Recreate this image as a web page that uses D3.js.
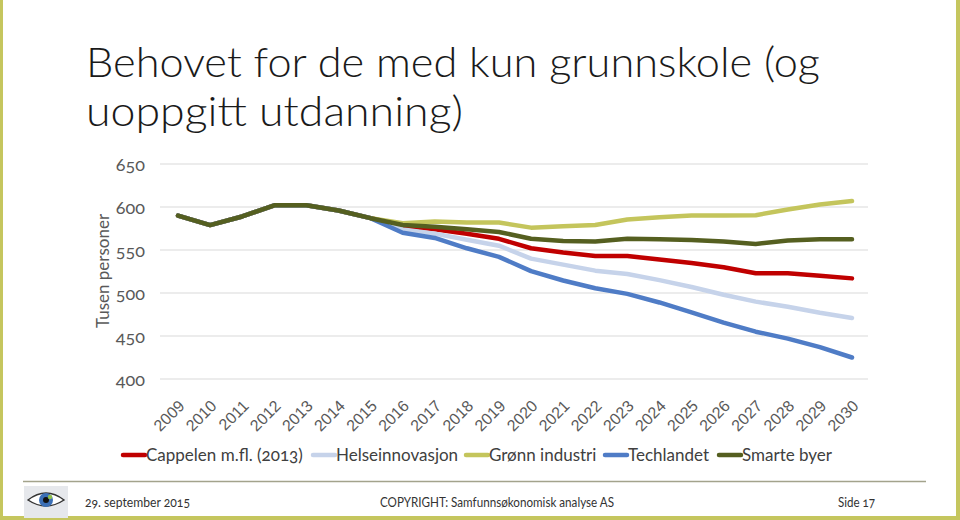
<!DOCTYPE html>
<html><head><meta charset="utf-8">
<script src="https://cdn.jsdelivr.net/npm/d3@7"></script>
<style>
body{margin:0;background:#fff;}
svg{display:block;font-family:Lato,"Open Sans",sans-serif;}
.num{font-variant-numeric:oldstyle-nums;font-feature-settings:"onum" 1;}
</style></head>
<body><svg id="c" width="960" height="520"></svg>
<script>
const years = d3.range(2009, 2031).map(String);
const seriesNames = ["Cappelen m.fl. (2013)", "Helseinnovasjon", "Grønn industri", "Techlandet", "Smarte byer"];
const seriesColors = ["#c00000", "#c6d3ea", "#c4c55c", "#4f7cc6", "#555f20"];
const hist = [590, 579, 589, 602, 602, 596, 587];
const cappelen = hist.concat([578, 574, 569, 563, 552, 547, 543, 543, 539, 535, 530, 523, 523, 520, 517]);
const helse    = hist.concat([574, 569, 562, 555, 540, 533, 526, 522, 515, 507, 498, 490, 484, 477, 471]);
const gronn    = hist.concat([581, 583, 582, 582, 576, 577.5, 579, 585.5, 588, 590, 590, 590.5, 597, 603, 607]);
const tech     = hist.concat([570, 564, 552, 542, 525.5, 514.5, 505.5, 499, 489, 477.5, 465.5, 455, 447, 437, 425]);
const smarte   = hist.concat([579, 577, 574, 571, 563, 560.5, 560, 563, 562.5, 561.5, 560, 557, 561, 562.5, 562.5]);
const seriesValues = [cappelen, helse, gronn, tech, smarte];
const yTicks = [400, 450, 500, 550, 600, 650];

const svg = d3.select("#c");
// slide border
const bc = "#c5c65e";
svg.append("rect").attr("x",0).attr("y",0).attr("width",3).attr("height",520).attr("fill",bc);
svg.append("rect").attr("x",956).attr("y",0).attr("width",4).attr("height",520).attr("fill",bc);
svg.append("rect").attr("x",0).attr("y",516).attr("width",960).attr("height",4).attr("fill",bc);

// title
const tAttrs = (t)=>t.attr("fill","#1a1a1a").attr("font-size",41).attr("font-weight",300)
  .attr("font-family","Lato, 'Open Sans', sans-serif").attr("lengthAdjust","spacingAndGlyphs");
tAttrs(svg.append("text").attr("x",86).attr("y",77).attr("textLength",734)).text("Behovet for de med kun grunnskole (og");
tAttrs(svg.append("text").attr("x",86).attr("y",126).attr("textLength",377)).text("uoppgitt utdanning)");

const x = d3.scalePoint().domain(years).range([178, 852]);
const y = d3.scaleLinear().domain([400, 650]).range([379, 164]);

// grid
const yAxis = d3.axisLeft(y).tickValues(yTicks).tickSize(0).tickPadding(0);
const gy = svg.append("g").attr("transform","translate(145,0)").call(yAxis);
gy.select(".domain").remove();
gy.selectAll("text").attr("class","num").attr("fill","#595959").attr("font-size",18).attr("dy","0.35em").attr("font-family","Lato, sans-serif");
svg.append("g").selectAll("line").data(yTicks).join("line")
  .attr("x1",160).attr("x2",868).attr("y1",d=>y(d)).attr("y2",d=>y(d))
  .attr("stroke","#d9d9d9").attr("stroke-width",1);

// y title
svg.append("text").attr("transform","translate(109,271) rotate(-90)").attr("text-anchor","middle")
  .attr("fill","#595959").attr("font-size",17).text("Tusen personer");

// x axis labels
const xAxis = d3.axisBottom(x).tickSize(0).tickPadding(0);
const gx = svg.append("g").attr("transform","translate(0,388)").call(xAxis);
gx.select(".domain").remove();
gx.selectAll("text").attr("class","num").attr("fill","#595959").attr("font-size",16)
  .attr("text-anchor","end").attr("dy",0).attr("transform","translate(7,19) rotate(-45)");

// lines
const line = d3.line().x((d,i)=>x(years[i])).y(d=>y(d));
svg.append("g").selectAll("path").data(seriesValues).join("path")
  .attr("d",line).attr("fill","none").attr("stroke",(d,i)=>seriesColors[i])
  .attr("stroke-width",4.5).attr("stroke-linejoin","round").attr("stroke-linecap","round");

// legend
const legX = [122, 312, 465, 604, 718];
const leg = svg.append("g").selectAll("g").data(seriesNames).join("g")
  .attr("transform",(d,i)=>`translate(${legX[i]},455)`);
leg.append("line").attr("x1",1).attr("x2",23).attr("y1",0).attr("y2",0)
  .attr("stroke",(d,i)=>seriesColors[i]).attr("stroke-width",4.5).attr("stroke-linecap","round");
leg.append("text").attr("class","num").attr("x",24).attr("y",0).attr("dy","0.35em").attr("fill","#404040").attr("font-size",17).text(d=>d);

// footer
svg.append("line").attr("x1",23).attr("x2",926).attr("y1",481.5).attr("y2",481.5).attr("stroke","#a3a38c").attr("stroke-width",1.5);
const logo = svg.append("g").attr("transform","translate(46,500)");
logo.append("rect").attr("x",-22).attr("y",-14).attr("width",44).attr("height",32).attr("fill","#e6e8ec");
logo.append("path").attr("d","M-18,0 Q0,-14 18,0 Q0,12 -18,0Z").attr("fill","#fff").attr("stroke","#333").attr("stroke-width",1.5);
logo.append("circle").attr("r",7).attr("fill","#3b6fb6");
logo.append("circle").attr("r",3).attr("fill","#111");
logo.append("circle").attr("cx",4).attr("cy",-3).attr("r",2.2).attr("fill","#8fc04a");
const ft = {fill:"#333", size:13.5};
svg.append("text").attr("class","num").attr("x",85).attr("y",507).attr("fill",ft.fill).attr("font-size",ft.size)
  .attr("textLength",105).attr("lengthAdjust","spacingAndGlyphs").text("29. september 2015");
svg.append("text").attr("class","num").attr("x",380).attr("y",507).attr("fill",ft.fill).attr("font-size",ft.size)
  .attr("textLength",234).attr("lengthAdjust","spacingAndGlyphs").text("COPYRIGHT: Samfunnsøkonomisk analyse AS");
svg.append("text").attr("class","num").attr("x",838).attr("y",507).attr("fill",ft.fill).attr("font-size",ft.size)
  .attr("textLength",37).attr("lengthAdjust","spacingAndGlyphs").text("Side 17");
</script></body></html>
